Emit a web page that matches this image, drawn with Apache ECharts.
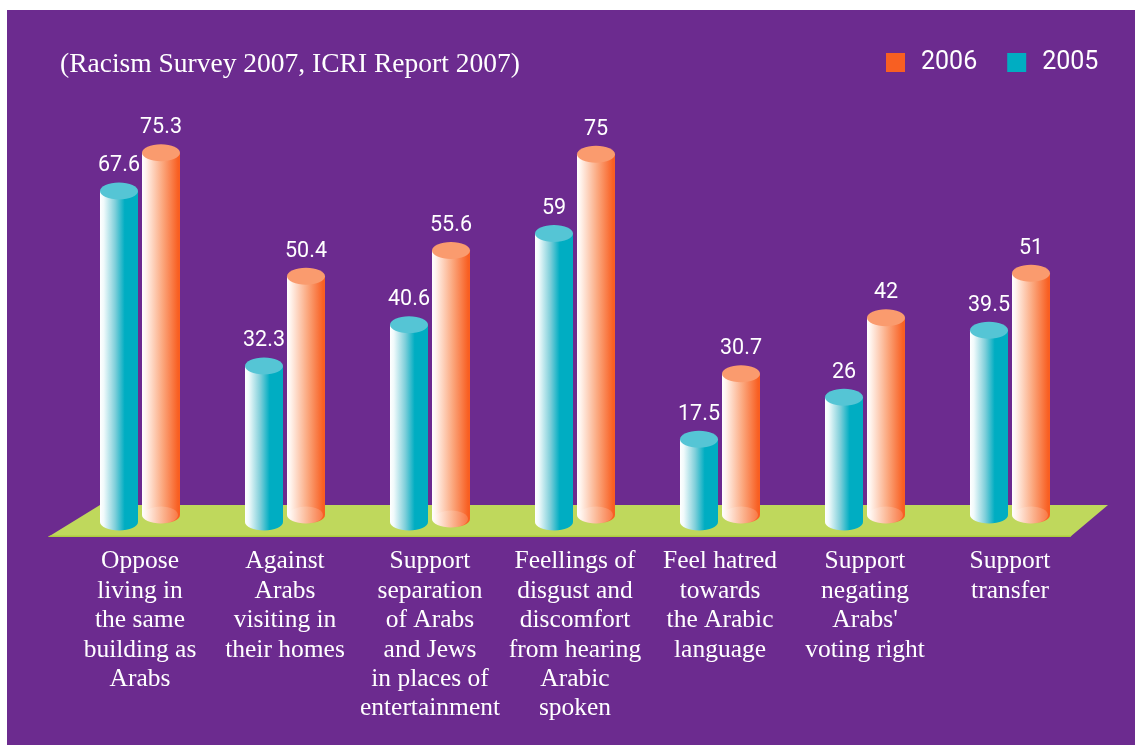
<!DOCTYPE html>
<html>
<head>
<meta charset="utf-8">
<title>Racism Survey 2007</title>
<script src="https://cdn.jsdelivr.net/npm/echarts@6/dist/echarts.min.js"></script>
<style>
html,body{margin:0;padding:0;background:#fff;}
#chart{width:1135px;height:745px;}
</style>
</head>
<body>
<div id="chart"></div>
<script>
var categories=[
	'Oppose\nliving in\nthe same\nbuilding as\nArabs',
	'Against\nArabs\nvisiting in\ntheir homes',
	'Support\nseparation\nof Arabs\nand Jews\nin places of\nentertainment',
	'Feellings of\ndisgust and\ndiscomfort\nfrom hearing\nArabic\nspoken',
	'Feel hatred\ntowards\nthe Arabic\nlanguage',
	'Support\nnegating\nArabs\'\nvoting right',
	'Support\ntransfer'
];
var values2005=[67.6,32.3,40.6,59,17.5,26,39.5];
var values2006=[75.3,50.4,55.6,75,30.7,42,51];

var serif='"Liberation Serif",serif';
var sans='Roboto,sans-serif';

// one cylinder per point: body, base, top, value on top
function cylinder(opt){
	return function(params,api){
		var i=api.value(0);
		var x=api.coord([i,0])[0]+opt.offset;
		var yTop=api.coord([i,api.value(1)])[1];
		var yBase=api.coord([i,0])[1]-opt.lift[i];
		var rx=19,ry=8.5;
		var fill=new echarts.graphic.LinearGradient(0,0,1,0,opt.stops);
		var kids=[
			{type:'rect',shape:{x:x-rx,y:yTop,width:rx*2,height:yBase-yTop},style:{fill:fill}},
			{type:'ellipse',shape:{cx:x,cy:yBase,rx:rx,ry:ry},style:{fill:fill}}
		];
		if(opt.glow){
			kids.push({type:'ellipse',shape:{cx:x,cy:yBase,rx:rx-2,ry:ry},style:{fill:'rgba(255,255,255,0.16)'}});
		}
		kids.push({type:'ellipse',shape:{cx:x,cy:yTop,rx:rx,ry:ry},style:{fill:opt.top}});
		kids.push({type:'text',x:x,y:yTop-25,style:{text:String(api.value(1)),fill:'#fff',font:'21.5px '+sans,align:'center',verticalAlign:'middle'}});
		return {type:'group',children:kids};
	};
}

var chart=echarts.init(document.getElementById('chart'));
chart.setOption({
	animation:false,
	title:{
		text:'(Racism Survey 2007, ICRI Report 2007)',
		left:55,top:46,
		textStyle:{color:'#fff',fontFamily:serif,fontWeight:'normal',fontSize:27.5}
	},
	legend:{
		data:['2006','2005'],
		left:881,top:45,
		icon:'rect',itemWidth:19,itemHeight:19,itemGap:30,
		textStyle:{color:'#fff',fontFamily:sans,fontSize:25,padding:[0,0,0,11]}
	},
	grid:{left:67.5,right:52.5,top:80,bottom:219},
	xAxis:{
		type:'category',
		data:categories,
		axisLine:{show:false},axisTick:{show:false},
		axisLabel:{interval:0,margin:21,color:'#fff',fontFamily:serif,fontSize:25.5,lineHeight:29.4,align:'center',verticalAlign:'top'}
	},
	yAxis:{type:'value',min:0,max:90,show:false,splitLine:{show:false}},
	graphic:[
		{type:'rect',z:-10,shape:{x:7,y:10,width:1128,height:735},style:{fill:'#6c2b8f'}},
		{type:'polygon',z:-9,shape:{points:[[48,537],[100,505],[1108,505],[1070,537]]},style:{fill:'#bfd85c'}},
		{type:'polygon',z:-8,shape:{points:[[50,535.5],[48,537],[1070,537],[1072,535.5]]},style:{fill:'#aecb3f'}}
	],
	series:[
		{name:'2005',type:'custom',itemStyle:{color:'#00adc2'},data:values2005.map(function(v,i){return [i,v];}),
			encode:{x:0,y:1},
			renderItem:cylinder({offset:-21,top:'#55c5d5',lift:[4,4,4,4,4,4,11],
				stops:[{offset:0,color:'#ffffff'},{offset:0.1,color:'#f0fafb'},{offset:0.4,color:'#7fcfda'},{offset:0.65,color:'#00adc2'},{offset:1,color:'#00adc2'}]})},
		{name:'2006',type:'custom',itemStyle:{color:'#f85f22'},data:values2006.map(function(v,i){return [i,v];}),
			encode:{x:0,y:1},
			renderItem:cylinder({offset:21,top:'#fa9b6e',lift:[11,11,7,11,11,11,11],glow:true,
				stops:[{offset:0,color:'#ffffff'},{offset:0.1,color:'#fff3ec'},{offset:0.55,color:'#fba67c'},{offset:0.95,color:'#f85f22'},{offset:1,color:'#f85f22'}]})}
	]
});
</script>
</body>
</html>
